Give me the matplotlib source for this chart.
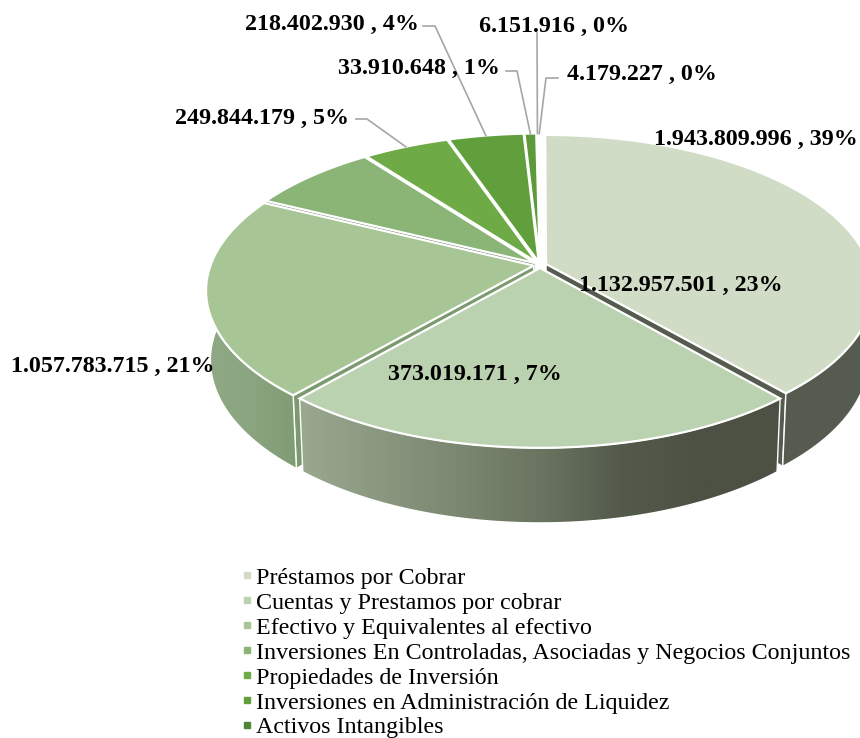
import numpy as np
import matplotlib
matplotlib.use('Agg')
import matplotlib.pyplot as plt
from matplotlib.colors import LinearSegmentedColormap
from matplotlib.lines import Line2D
from matplotlib.patches import Polygon

plt.rcParams['font.family'] = ['Liberation Serif', 'DejaVu Serif']

# datos
values = [1943809996, 1132957501, 1057783715, 373019171, 249844179,
          218402930, 33910648, 6151916, 4179227]
value_labels = ['1.943.809.996 , 39%', '1.132.957.501 , 23%', '1.057.783.715 , 21%',
                '373.019.171 , 7%', '249.844.179 , 5%', '218.402.930 , 4%',
                '33.910.648 , 1%', '6.151.916 , 0%', '4.179.227 , 0%']
legend_names = ['Préstamos por Cobrar', 'Cuentas y Prestamos por cobrar',
                'Efectivo y Equivalentes al efectivo',
                'Inversiones En Controladas, Asociadas y Negocios Conjuntos',
                'Propiedades de Inversión', 'Inversiones en Administración de Liquidez',
                'Activos Intangibles']

# estilo
top_colors = ['#d0dcc6', '#bbd2b0', '#a7c595', '#8ab577', '#6eaa45',
              '#619f3c', '#5d9a3a', '#5a9538', '#4f8535']
legend_colors = ['#d0dcc6', '#bbd2b0', '#a7c595', '#8ab577', '#6eaa45', '#619f3c', '#4f8535']
wall_colors = {0: ['#565b4f', '#565b4f'],
               1: ['#9aa890', '#8a9880', '#7b8771', '#6a7460', '#535a4c', '#4c5144', '#4c5144'],
               2: ['#8fa985', '#8aa57f', '#809c74']}
face_colors = {0: '#565b4f', 2: '#7c9a70', 3: '#6f7f68'}

# label -> centro del texto en pixeles
label_pos = [(756, 139), (681, 285), (113, 366), (475, 374), (262, 118),
             (332, 24), (419, 68), (554, 26), (642, 74)]
# lineas guia: indice de la porcion, puntos de quiebre
leaders = {4: [(356, 119), (367, 119)], 5: [(423, 26), (435, 26)],
           6: [(506, 71), (517, 71)], 7: [(537, 33), (537, 34)],
           8: [(558, 78), (546, 78)]}

cx, cy = 540, 265
rx, ry = 323, 150
persp = 0.16
explode = 0.02
depth = 68.5
shrink_x = 0.987
shrink_y = 1.036

fractions = np.array(values) / np.sum(values)
edges = np.concatenate([[0], np.cumsum(fractions)]) * 2 * np.pi


# pasa del circulo (horario desde arriba) a la vista en perspectiva
def project(theta, radius, mid, lower=False):
    u = radius * np.sin(theta) + explode * np.sin(mid)
    v = radius * np.cos(theta) + explode * np.cos(mid)
    x = rx * u / (1 + persp * v)
    y = -ry * v / (1 + persp * v)
    if lower:
        return cx + x * shrink_x, cy + depth + y * shrink_y
    return cx + x, cy + y


def arc(t0, t1, mid, lower=False):
    t = np.linspace(t0, t1, 120)
    x, y = project(t, 1.0, mid, lower)
    return np.column_stack([x, y])


fig = plt.figure(figsize=(8.6, 7.38), dpi=100)
ax = fig.add_axes([0, 0, 1, 1])
ax.axis('off')

z = 1
for i in [8, 7, 6, 5, 4, 3, 2, 0, 1]:
    t0, t1 = edges[i], edges[i + 1]
    mid = (t0 + t1) / 2

    # cara radial que se ve en la separacion
    if i in face_colors:
        t = t1 if i == 0 else t0
        rim_top = project(t, 1.0, mid)
        rim_low = project(t, 1.0, mid, True)
        apex_top = project(t, 0.0, mid)
        apex_low = project(t, 0.0, mid, True)
        ax.add_patch(Polygon([apex_top, rim_top, rim_low, apex_low], closed=True,
                             facecolor=face_colors[i], edgecolor='white', lw=1, zorder=z))
        z += 1

    # pared exterior, solo la parte de adelante
    if i in wall_colors:
        a = max(t0, np.radians(75))
        b = min(t1, np.radians(292))
        top_arc = arc(a, b, mid)
        low_arc = arc(a, b, mid, True)
        pts = np.vstack([top_arc, low_arc[::-1]])
        poly = Polygon(pts, closed=True, facecolor='none', edgecolor='white', lw=1, zorder=z + 1)
        ax.add_patch(poly)
        cmap = LinearSegmentedColormap.from_list('w%d' % i, wall_colors[i])
        grad = np.linspace(0, 1, 256)[None, :]
        im = ax.imshow(grad, cmap=cmap, aspect='auto', zorder=z,
                       extent=(pts[:, 0].min(), pts[:, 0].max(), pts[:, 1].max(), pts[:, 1].min()))
        im.set_clip_path(poly)
        z += 2

    # cara superior
    top_pts = np.vstack([project(0.0, 0.0, mid), arc(t0, t1, mid)])
    ax.add_patch(Polygon(top_pts, closed=True, facecolor=top_colors[i],
                         edgecolor='white', lw=1.6, zorder=z))
    z += 1

# lineas guia
for i, bends in leaders.items():
    mid = (edges[i] + edges[i + 1]) / 2
    end = project(mid, 1.0, mid)
    xs = [p[0] for p in bends] + [end[0]]
    ys = [p[1] for p in bends] + [end[1]]
    ax.plot(xs, ys, color='#a6a6a6', lw=1.2, zorder=z)
z += 1

for text, pos in zip(value_labels, label_pos):
    ax.text(pos[0], pos[1], text, ha='center', va='center', fontsize=17.25,
            fontweight='bold', color='black', zorder=z)

handles = [Line2D([], [], linestyle='none', marker='s', markersize=4, color=c)
           for c in legend_colors]
ax.legend(handles, legend_names, loc='upper left', bbox_to_anchor=(239 / 860, 1 - 567 / 738),
          frameon=False, fontsize=17.3, labelspacing=0.13, handletextpad=0.02,
          handlelength=0.7, borderpad=0, borderaxespad=0)

ax.set_xlim(0, 860)
ax.set_ylim(738, 0)
fig.savefig('out.png', dpi=100)
